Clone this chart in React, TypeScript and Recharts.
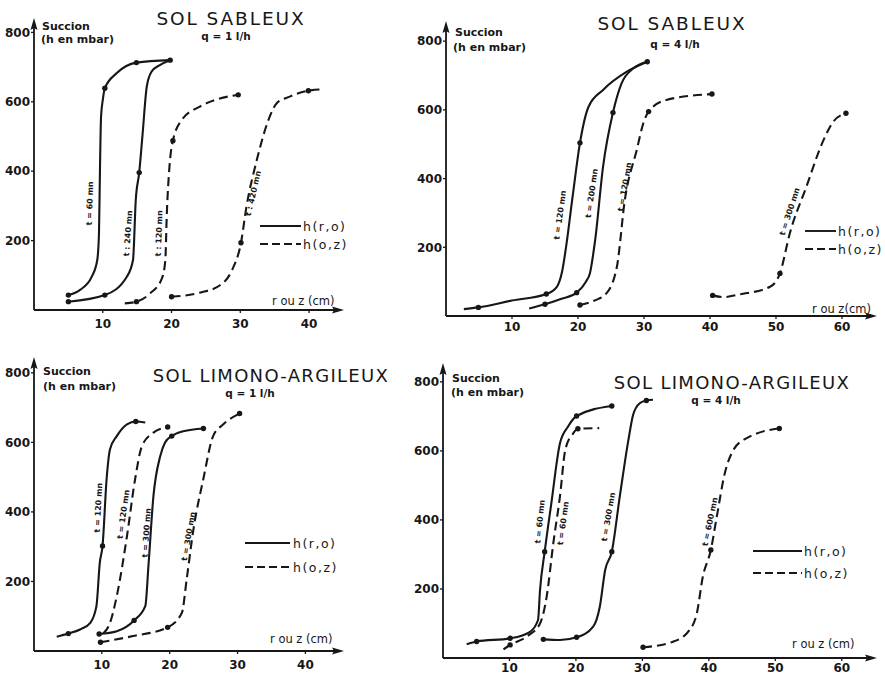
import React from 'react';
import { LineChart, Line, XAxis, YAxis, ReferenceDot } from 'recharts';

// [r or z (cm), h (mbar), 1 = measured point drawn as a dot]
type Pt = [number, number, number?];

const FONT = '"DejaVu Sans", sans-serif';
const INK = '#171717';

const yTicks = [200, 400, 600, 800];

// SOL SABLEUX, q = 1 l/h
const sab1XTicks = [10, 20, 30, 40];
const sab1R60: Pt[] = [[5.0, 43, 1], [6.7, 58], [8.4, 96], [9.2, 144], [9.45, 221], [9.6, 413], [9.75, 557], [10.0, 605], [10.3, 639, 1], [12.0, 682], [14.9, 713, 1], [19.8, 720, 1]];
const sab1R240: Pt[] = [[5.0, 24, 1], [10.3, 43, 1], [13.5, 96], [14.4, 144], [14.8, 317], [15.3, 396, 1], [15.8, 509], [16.4, 644], [17.1, 687], [18.3, 706], [19.8, 720]];
const sab1Z120: Pt[] = [[13.2, 19], [14.9, 24, 1], [16.9, 48], [18.6, 91], [19.1, 144], [19.3, 269], [19.7, 413], [20.2, 488, 1], [21.5, 548], [24.1, 586], [26.6, 607], [29.7, 620, 1]];
const sab1Z420: Pt[] = [[20.0, 38, 1], [24.1, 50], [27.1, 72], [28.8, 115], [30.1, 194, 1], [30.9, 298], [32.4, 432], [34.1, 548], [35.3, 596], [37.2, 615], [39.9, 632, 1], [42.1, 636]];

// SOL SABLEUX, q = 4 l/h
const sab4XTicks = [10, 20, 30, 40, 50, 60];
const sab4R120: Pt[] = [[2.7, 20], [4.9, 25, 1], [10, 45], [15.2, 64, 1], [16.8, 85], [17.6, 130], [18.2, 202], [19.2, 350], [20.3, 504, 1], [21.6, 609], [23.8, 658], [27.4, 711], [30.5, 740, 1]];
const sab4R200: Pt[] = [[12.6, 22], [15, 34, 1], [17.5, 50], [19.8, 68, 1], [21.2, 100], [21.8, 124], [22.6, 221], [23.8, 435], [25.3, 592, 1], [26.6, 677], [28.4, 721], [30.5, 740]];
const sab4Z120: Pt[] = [[20.3, 32, 1], [22.5, 45], [24.3, 66], [25.9, 144], [27.1, 338], [28.9, 483], [29.9, 561], [30.7, 595, 1], [33.4, 629], [40.3, 646, 1]];
const sab4Z300: Pt[] = [[40.4, 60, 1], [42, 55], [44.5, 63], [49.1, 85], [50.6, 124, 1], [52.1, 241], [54.6, 376], [57.2, 512], [58.7, 566], [60.6, 590, 1]];

// SOL LIMONO-ARGILEUX, q = 1 l/h
const lim1XTicks = [10, 20, 30, 40];
const lim1R120: Pt[] = [[3.35, 41], [5.06, 50, 1], [6.8, 62], [8.3, 81], [9.2, 129], [9.7, 254], [10.1, 302, 1], [10.7, 494], [11.2, 580], [12.2, 618], [13.7, 652], [15.0, 660, 1], [16.4, 657]];
const lim1Z120: Pt[] = [[10.2, 50], [11.2, 81], [12.2, 158], [13.7, 330], [14.9, 494], [15.9, 589], [17.6, 628], [19.7, 644, 1]];
const lim1R300: Pt[] = [[9.6, 49, 1], [12.2, 57], [14.75, 88, 1], [16.4, 129], [16.9, 254], [17.6, 445], [18.6, 560], [19.3, 599], [20.3, 618, 1], [22, 632], [24.97, 640, 1]];
const lim1Z300: Pt[] = [[9.8, 25, 1], [14.6, 43], [19.7, 68, 1], [21.8, 110], [22.5, 206], [23.5, 350], [24.95, 494], [26.4, 618], [27.9, 652], [30.3, 683, 1]];

// SOL LIMONO-ARGILEUX, q = 4 l/h
const lim4XTicks = [10, 20, 30, 40, 50, 60];
const lim4R60: Pt[] = [[3.56, 40], [5.06, 48, 1], [10.1, 57, 1], [13.1, 76], [14.3, 110], [14.6, 197], [15.3, 308, 1], [16.3, 448], [17.6, 622], [18.8, 670], [20.1, 701, 1], [25.4, 730, 1]];
const lim4Z60: Pt[] = [[9.1, 25], [10.1, 38, 1], [12.6, 62], [14.6, 100], [15.6, 178], [16.6, 333], [17.6, 468], [18.4, 603], [19.6, 651], [20.3, 664, 1], [23.5, 666]];
const lim4R300: Pt[] = [[15.1, 54, 1], [17.6, 52], [20.1, 60, 1], [22.6, 91], [23.6, 149], [24.4, 255], [25.4, 308, 1], [26.6, 468], [27.9, 632], [28.6, 704], [29.6, 738], [30.6, 746, 1], [31.6, 748]];
const lim4Z600: Pt[] = [[30.1, 31, 1], [34.6, 47], [37.1, 81], [38.2, 130], [39.1, 236], [40.3, 313, 1], [41.2, 410], [42.4, 535], [43.7, 603], [45.7, 637], [50.6, 665, 1]];

interface Tag { x: number; y: number; text: string; rot: number }

const sab1Tags: Tag[] = [
  { x: 8.15, y: 307, text: 't = 60 mn', rot: -88 },
  { x: 13.7, y: 221, text: 't : 240 mn', rot: -86 },
  { x: 18.2, y: 221, text: 't : 120 mn', rot: -88 },
  { x: 31.9, y: 336, text: 't : 420 mn', rot: -77 },
];
const sab4Tags: Tag[] = [
  { x: 17.3, y: 294, text: 't = 120 mn', rot: -82 },
  { x: 22.1, y: 357, text: 't = 200 mn', rot: -82 },
  { x: 27.1, y: 376, text: 't = 120 mn', rot: -80 },
  { x: 52.1, y: 304, text: 't = 300 mn', rot: -72 },
];
const lim1Tags: Tag[] = [
  { x: 9.5, y: 412, text: 't = 120 mn', rot: -87 },
  { x: 13.2, y: 393, text: 't = 120 mn', rot: -82 },
  { x: 16.6, y: 340, text: 't = 300 mn', rot: -86 },
  { x: 22.8, y: 330, text: 't = 300 mn', rot: -80 },
];
const lim4Tags: Tag[] = [
  { x: 14.6, y: 395, text: 't = 60 mn', rot: -84 },
  { x: 18.1, y: 390, text: 't = 60 mn', rot: -82 },
  { x: 24.9, y: 409, text: 't = 300 mn', rot: -80 },
  { x: 40.2, y: 395, text: 't = 600 mn', rot: -78 },
];

interface Curve { pts: Pt[]; dashed?: boolean }
interface Panel {
  box: { left: number; top: number; width: number; height: number };
  plot: { left: number; top: number; right: number; bottom: number };
  xMax: number;
  yMax: number;
  xTicks: number[];
  xGap: number;
  curves: Curve[];
  tags: Tag[];
}

const panels: Panel[] = [
  {
    box: { left: 0, top: 0, width: 440, height: 338 },
    plot: { left: 34, top: 22, right: 340, bottom: 310 },
    xMax: 44.5, yMax: 830, xTicks: sab1XTicks, xGap: 6,
    curves: [{ pts: sab1R60 }, { pts: sab1R240 }, { pts: sab1Z120, dashed: true }, { pts: sab1Z420, dashed: true }],
    tags: sab1Tags,
  },
  {
    box: { left: 412, top: 0, width: 473, height: 338 },
    plot: { left: 446, top: 25, right: 873, bottom: 316 },
    xMax: 64.7, yMax: 847, xTicks: sab4XTicks, xGap: 3,
    curves: [{ pts: sab4R120 }, { pts: sab4R200 }, { pts: sab4Z120, dashed: true }, { pts: sab4Z300, dashed: true }],
    tags: sab4Tags,
  },
  {
    box: { left: 0, top: 338, width: 440, height: 338 },
    plot: { left: 34, top: 361, right: 340, bottom: 651 },
    xMax: 45.1, yMax: 834, xTicks: lim1XTicks, xGap: 6,
    curves: [{ pts: lim1R120 }, { pts: lim1Z120, dashed: true }, { pts: lim1R300 }, { pts: lim1Z300, dashed: true }],
    tags: lim1Tags,
  },
  {
    box: { left: 412, top: 338, width: 473, height: 338 },
    plot: { left: 443, top: 367, right: 873, bottom: 658 },
    xMax: 64.7, yMax: 843, xTicks: lim4XTicks, xGap: 2,
    curves: [{ pts: lim4R60 }, { pts: lim4Z60, dashed: true }, { pts: lim4R300 }, { pts: lim4Z600, dashed: true }],
    tags: lim4Tags,
  },
];

const toRows = (pts: Pt[]) => pts.map(([x, y, m]) => ({ x, y, m: !!m }));

const renderDot = (props: any) => {
  const { cx, cy, payload, index } = props;
  if (!payload || !payload.m) return <g key={`d${index}`} />;
  return <circle key={`d${index}`} cx={cx} cy={cy} r={2.7} fill={INK} />;
};

// arrow heads at the ends of both axes
const rightArrow = (p: any) => (
  <path d={`M${p.cx + 4},${p.cy} L${p.cx - 8},${p.cy - 3.5} L${p.cx - 6},${p.cy} L${p.cx - 8},${p.cy + 3.5} Z`} fill={INK} stroke="none" />
);
const upArrow = (p: any) => (
  <path d={`M${p.cx},${p.cy - 4} L${p.cx - 3.5},${p.cy + 8} L${p.cx},${p.cy + 6} L${p.cx + 3.5},${p.cy + 8} Z`} fill={INK} stroke="none" />
);

const tagShape = (tag: Tag) => (p: any) => (
  <text
    x={p.cx}
    y={p.cy}
    transform={`rotate(${tag.rot} ${p.cx} ${p.cy})`}
    textAnchor="middle"
    dominantBaseline="central"
    fontFamily={FONT}
    fontSize={8}
    fontWeight="bold"
    fill={INK}
  >
    {tag.text}
  </text>
);

const PanelChart = ({ p }: { p: Panel }) => {
  const { box, plot } = p;
  const tickStyle = { fill: INK, fontSize: 12, fontFamily: FONT, fontWeight: 'bold' as const };
  return (
    <div style={{ position: 'absolute', left: box.left, top: box.top }}>
      <LineChart
        width={box.width}
        height={box.height}
        style={{ overflow: 'visible' }}
        margin={{ top: plot.top - box.top, right: box.left + box.width - plot.right, bottom: 0, left: 0 }}
      >
        <XAxis
          type="number"
          dataKey="x"
          domain={[0, p.xMax]}
          ticks={p.xTicks}
          interval={0}
          allowDataOverflow
          height={box.top + box.height - plot.bottom}
          axisLine={{ stroke: INK, strokeWidth: 1.8 }}
          tickLine={{ stroke: INK, strokeWidth: 1.3 }}
          tickSize={3}
          tickMargin={p.xGap}
          tick={tickStyle}
        />
        <YAxis
          type="number"
          dataKey="y"
          domain={[0, p.yMax]}
          ticks={yTicks}
          interval={0}
          allowDataOverflow
          width={plot.left - box.left}
          axisLine={{ stroke: INK, strokeWidth: 1.8 }}
          tickLine={{ stroke: INK, strokeWidth: 1.3 }}
          tickSize={3}
          tickMargin={1}
          tick={tickStyle}
        />
        {p.curves.map((c, i) => (
          <Line
            key={i}
            data={toRows(c.pts)}
            dataKey="y"
            type="monotone"
            stroke={INK}
            strokeWidth={2.1}
            strokeDasharray={c.dashed ? '9 5' : undefined}
            dot={renderDot}
            activeDot={false}
            isAnimationActive={false}
          />
        ))}
        <ReferenceDot x={p.xMax} y={0} r={1} ifOverflow="visible" shape={rightArrow} />
        <ReferenceDot x={0} y={p.yMax} r={1} ifOverflow="visible" shape={upArrow} />
        {p.tags.map((t, i) => (
          <ReferenceDot key={`t${i}`} x={t.x} y={t.y} r={0} shape={tagShape(t)} />
        ))}
      </LineChart>
    </div>
  );
};

const T = (props: any) => <text fontFamily={FONT} fill={INK} {...props} />;

const LegendPair = ({ x1, x2, y1, y2, tx }: { x1: number; x2: number; y1: number; y2: number; tx: number }) => (
  <g>
    <line x1={x1} x2={x2} y1={y1} y2={y1} stroke={INK} strokeWidth={1.9} />
    <T x={tx} y={y1 + 5} fontSize={12.5} letterSpacing={1.5}>h(r,o)</T>
    <line x1={x1} x2={x2} y1={y2} y2={y2} stroke={INK} strokeWidth={1.9} strokeDasharray="8 4" />
    <T x={tx} y={y2 + 5} fontSize={12.5} letterSpacing={1.5}>h(o,z)</T>
  </g>
);

const Overlay = () => (
  <svg width={885} height={676} style={{ position: 'absolute', left: 0, top: 0, pointerEvents: 'none' }}>
    {/* top left */}
    <T x={231} y={25} fontSize={18.5} letterSpacing={1.9} textAnchor="middle">SOL SABLEUX</T>
    <T x={226} y={40} fontSize={10.5} fontWeight="bold" textAnchor="middle">q = 1 l/h</T>
    <T x={42} y={30} fontSize={11} fontWeight="bold">Succion</T>
    <T x={41} y={43} fontSize={11} fontWeight="bold">(h en mbar)</T>
    <T x={272} y={305} fontSize={11.5}>r ou z (cm)</T>
    <LegendPair x1={260} x2={301} y1={226} y2={244} tx={303} />

    {/* top right */}
    <T x={672} y={30} fontSize={18.5} letterSpacing={1.9} textAnchor="middle">SOL SABLEUX</T>
    <T x={675} y={48} fontSize={10.5} fontWeight="bold" textAnchor="middle">q = 4 l/h</T>
    <T x={455} y={36} fontSize={11} fontWeight="bold">Succion</T>
    <T x={453} y={51} fontSize={11} fontWeight="bold">(h en mbar)</T>
    <T x={812} y={313} fontSize={11.5}>r ou z(cm)</T>
    <LegendPair x1={805} x2={836} y1={231} y2={249} tx={838} />

    {/* bottom left */}
    <T x={271} y={382} fontSize={18} letterSpacing={1.3} textAnchor="middle">SOL LIMONO-ARGILEUX</T>
    <T x={250} y={397} fontSize={10.5} fontWeight="bold" textAnchor="middle">q = 1 l/h</T>
    <T x={43} y={375} fontSize={11} fontWeight="bold">Succion</T>
    <T x={43} y={390} fontSize={11} fontWeight="bold">(h en mbar)</T>
    <T x={270} y={643} fontSize={11.5}>r ou z (cm)</T>
    <LegendPair x1={245} x2={290} y1={543} y2={567} tx={293} />

    {/* bottom right */}
    <T x={732} y={389} fontSize={18} letterSpacing={1.3} textAnchor="middle">SOL LIMONO-ARGILEUX</T>
    <T x={716} y={404} fontSize={10.5} fontWeight="bold" textAnchor="middle">q = 4 l/h</T>
    <T x={452} y={382} fontSize={11} fontWeight="bold">Succion</T>
    <T x={451} y={396} fontSize={11} fontWeight="bold">(h en mbar)</T>
    <T x={792} y={648} fontSize={11.5}>r ou z (cm)</T>
    <LegendPair x1={753} x2={802} y1={551} y2={573} tx={804} />
  </svg>
);

export default function App() {
  return (
    <div style={{ position: 'absolute', left: 0, top: 0, width: 885, height: 676, background: '#fff', overflow: 'hidden' }}>
      {panels.map((p, i) => (
        <PanelChart key={i} p={p} />
      ))}
      <Overlay />
    </div>
  );
}
